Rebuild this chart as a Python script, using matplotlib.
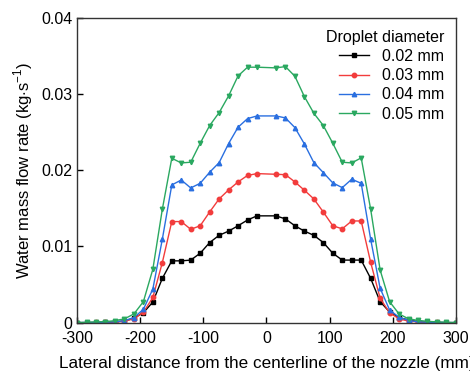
import matplotlib
matplotlib.use("Agg")
import matplotlib.pyplot as plt

plt.rcParams['font.family'] = ['Liberation Sans', 'DejaVu Sans']
plt.rcParams['mathtext.fontset'] = 'custom'
plt.rcParams['mathtext.rm'] = 'Liberation Sans'
plt.rcParams['axes.unicode_minus'] = False

# Posiciones laterales (mm)
distancia = [-300, -285, -270, -255, -240, -225, -210, -195, -180, -165,
             -150, -135, -120, -105, -90, -75, -60, -45, -30, -15,
             15, 30, 45, 60, 75, 90, 105, 120, 135, 150,
             165, 180, 195, 210, 225, 240, 255, 270, 285, 300]

# Caudal másico de agua (kg/s) para cada diámetro de gota
d002 = [0.0, 0.0, 0.0, 0.00003, 0.0001, 0.0002, 0.0006, 0.0013, 0.0027, 0.0058,
        0.0081, 0.0081, 0.0082, 0.0091, 0.0105, 0.01145, 0.0120, 0.0127, 0.01346, 0.0140,
        0.0140, 0.0136, 0.0127, 0.0120, 0.01145, 0.0105, 0.0091, 0.0082, 0.0082, 0.0082,
        0.0058, 0.00275, 0.0014, 0.00066, 0.00035, 0.00013, 0.00005, 0.0, 0.0, 0.0]
d003 = [0.0, 0.0, 0.00002, 0.00005, 0.0001, 0.0002, 0.0005, 0.00136, 0.0033, 0.00787,
        0.01325, 0.01325, 0.01224, 0.0127, 0.01451, 0.01622, 0.0174, 0.01845, 0.0193, 0.01954,
        0.01945, 0.0194, 0.01845, 0.01736, 0.01622, 0.0145, 0.0127, 0.0123, 0.01333, 0.01333,
        0.0079, 0.0032, 0.0013, 0.0005, 0.0002, 0.0001, 0.00005, 0.00002, 0.0, 0.0]
d004 = [0.0, 0.00002, 0.00003, 0.00006, 0.0001, 0.00026, 0.00066, 0.00175, 0.0044, 0.01093,
        0.01805, 0.0187, 0.01766, 0.01827, 0.01972, 0.02098, 0.02348, 0.02562, 0.02675, 0.0271,
        0.0271, 0.02684, 0.02557, 0.02343, 0.02098, 0.01967, 0.01832, 0.0177, 0.0188, 0.01827,
        0.01093, 0.0045, 0.00166, 0.0007, 0.0003, 0.0001, 0.00006, 0.00003, 0.00002, 0.0]
d005 = [0.0, 0.00005, 0.0001, 0.00013, 0.00026, 0.0005, 0.00114, 0.00275, 0.0070, 0.01486,
        0.02155, 0.02094, 0.02103, 0.02352, 0.02584, 0.02754, 0.02973, 0.03235, 0.03349, 0.03349,
        0.0334, 0.03357, 0.0323, 0.02964, 0.02745, 0.02584, 0.02352, 0.02103, 0.02094, 0.0216,
        0.01486, 0.0069, 0.00275, 0.00114, 0.0005, 0.0003, 0.00017, 0.0001, 0.00005, 0.0]

series = [d002, d003, d004, d005]
etiquetas = ['0.02 mm', '0.03 mm', '0.04 mm', '0.05 mm']
colores = ['#000000', '#f23c3c', '#2a6fe0', '#2aa860']
marcadores = ['s', 'o', '^', 'v']

fig = plt.figure(figsize=(4.70, 3.73), dpi=100)
ax = fig.add_axes([0.164, 0.135, 0.806, 0.818])

for datos, etq, col, mk in zip(series, etiquetas, colores, marcadores):
    ax.plot(distancia, datos, color=col, marker=mk, ms=3.2, lw=1.0, label=etq)

ax.set_xlim(-300, 300)
ax.set_ylim(0, 0.04)
ax.set_xticks([-300, -200, -100, 0, 100, 200, 300])
ax.set_yticks([0, 0.01, 0.02, 0.03, 0.04])
ax.set_yticklabels(['0', '0.01', '0.02', '0.03', '0.04'])
ax.tick_params(direction='in', labelsize=11.5, length=4, width=1)
ax.tick_params(axis='x', pad=6)
for s in ax.spines.values():
    s.set_linewidth(1.0)
    s.set_color('#333333')

ax.set_xlabel('Lateral distance from the centerline of the nozzle (mm)', fontsize=12.3, labelpad=7)
ax.set_ylabel(r'Water mass flow rate (kg$\cdot$s$^{-1}$)', fontsize=12)

leg = ax.legend(title='Droplet diameter', loc='upper right', frameon=False,
                fontsize=11.5, title_fontsize=11.5, handlelength=1.9,
                borderaxespad=0.35, labelspacing=0.27, alignment='right')

fig.savefig('out.png', dpi=100)
